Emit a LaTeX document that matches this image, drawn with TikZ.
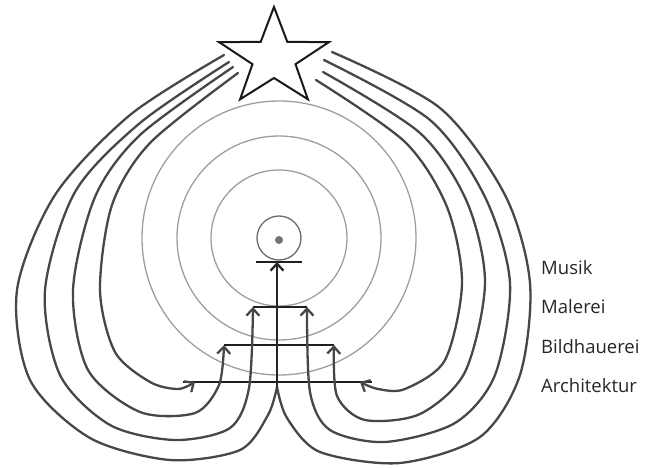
\documentclass[tikz,border=0pt]{standalone}
\usepackage{fontspec}
\setmainfont{Open Sans}
\usetikzlibrary{arrows.meta}
\begin{document}
\begin{tikzpicture}[x=1pt, y=-1pt,
		kreis/.style={draw=black!38, line width=1.3pt},
		bahn/.style={draw=black!72, line width=2.3pt, line cap=round},
		balken/.style={draw=black!88, line width=1.9pt},
		sternlinie/.style={draw=black!90, line width=2pt, line join=miter},
		pfeil/.style={-{Straight Barb[length=7pt,width=13pt]}},
		kunst/.style={anchor=base west, inner sep=0pt, text=black!85,
			font=\fontsize{18.5}{22}\selectfont}]

	\useasboundingbox (0,0) rectangle (645,468);

	\coordinate (mitte) at (279,238);
	\foreach \r in {68,102,137}
		\draw[kreis] (mitte) circle[radius=\r];
	\node[circle, draw=black!58, line width=1.3pt, minimum size=44pt, inner sep=0pt] (kern) at (mitte) {};
	\node[circle, fill=black!55, minimum size=8pt, inner sep=0pt] (punkt) at (279,240) {};

	\draw[sternlinie] (274,7) -- (287.3,41.8) -- (328.8,42.2) -- (295.5,64.2) -- (307.9,99.3)
		-- (274,78) -- (240.1,99.3) -- (252.5,64.2) -- (219.2,42.2) -- (260.7,41.8) -- cycle;

	\coordinate (spitze) at (277,387);
	\coordinate (mu) at (277,262);
	\coordinate (mu-l) at (256,262);
	\coordinate (mu-r) at (302,262);
	\coordinate (ma-l) at (253,307);
	\coordinate (ma-r) at (307,307);
	\coordinate (bi-l) at (224,345);
	\coordinate (bi-r) at (334,345);
	\coordinate (ar-l) at (183,382);
	\coordinate (ar-r) at (372,382);
	\coordinate (ar-pl) at (195,382);
	\coordinate (ar-pr) at (360,382);

	\draw[balken] (mu-l) -- (mu-r);
	\draw[balken] (ma-l) -- (ma-r);
	\draw[balken] (bi-l) -- (bi-r);
	\draw[balken] (ar-l) -- (ar-r);

	\draw[bahn] plot[smooth] coordinates {(224,55) (130,115) (55,195) (17,290) (30,380) (90,438) (170,460) (240,450) (268,415) (spitze)};
	\draw[bahn, pfeil] plot[smooth] coordinates {(229,62) (140,123) (75,192) (45,290) (60,375) (110,425) (175,440) (230,428) (249,388) (ma-l)};
	\draw[bahn, pfeil] plot[smooth] coordinates {(233,67) (140,135) (95,197) (73,290) (88,370) (140,412) (195,413) (219,385) (bi-l)};
	\draw[bahn, pfeil] plot[smooth] coordinates {(238,73) (150,143) (112,205) (100,290) (115,352) (150,382) (178,389) (ar-pl)};

	\draw[bahn] plot[smooth] coordinates {(332,52) (440,108) (505,195) (530,283) (520,375) (480,437) (400,463) (320,452) (287,418) (spitze)};
	\draw[bahn, pfeil] plot[smooth] coordinates {(324,60) (430,120) (485,197) (510,283) (495,375) (455,423) (385,442) (330,430) (310,392) (ma-r)};
	\draw[bahn, pfeil] plot[smooth] coordinates {(323,72) (420,133) (467,202) (485,283) (465,372) (420,414) (365,420) (337,396) (bi-r)};
	\draw[bahn, pfeil] plot[smooth] coordinates {(316,80) (405,142) (447,207) (462,283) (445,360) (405,389) (378,389) (ar-pr)};

	\draw[bahn, draw=black!85, pfeil] (spitze) -- (mu);

	\node[kunst] (musik) at (541,274) {Musik};
	\node[kunst] (malerei) at (541,313) {Malerei};
	\node[kunst] (bildhauerei) at (541,353) {Bildhauerei};
	\node[kunst] (architektur) at (541,392) {Architektur};
\end{tikzpicture}
\end{document}
